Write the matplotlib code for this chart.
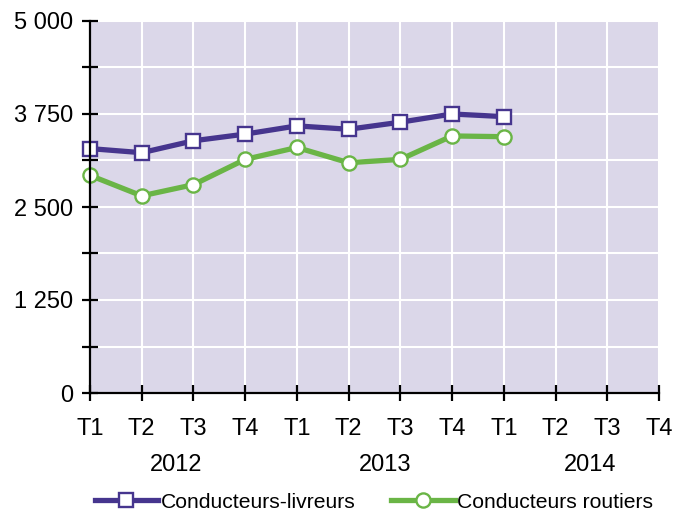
import matplotlib
matplotlib.use("Agg")
import matplotlib.pyplot as plt
from matplotlib.ticker import FixedLocator, FuncFormatter

quarters = ["T1", "T2", "T3", "T4"] * 3
years = ["2012", "2013", "2014"]
livreurs = [3285, 3230, 3390, 3480, 3590, 3545, 3640, 3750, 3715]
routiers = [2925, 2650, 2800, 3140, 3300, 3095, 3140, 3455, 3445]

purple = "#46358e"
green = "#6ab546"
bg = "#dbd7e9"

W, H = 689, 513
fig = plt.figure(figsize=(W / 100, H / 100), dpi=100)
ax = fig.add_axes([90 / W, 1 - 393 / H, (659 - 90) / W, (393 - 21) / H])
ax.set_facecolor(bg)

x = list(range(len(quarters)))
ax.plot(x[:len(livreurs)], livreurs, color=purple, lw=3.8, marker="s", ms=9.8,
        mfc="white", mec=purple, mew=1.7, label="Conducteurs-livreurs", zorder=4,
        clip_on=False)
ax.plot(x[:len(routiers)], routiers, color=green, lw=3.8, marker="o", ms=10.2,
        mfc="white", mec=green, mew=1.7, label="Conducteurs routiers", zorder=3,
        clip_on=False)

ax.set_xlim(0, len(quarters) - 1)
ax.set_ylim(0, 5000)
ax.set_xticks(x)
ax.set_xticklabels(quarters, fontfamily=["Liberation Sans Narrow", "Liberation Sans"], fontsize=17)
ax.yaxis.set_major_locator(FixedLocator([0, 1250, 2500, 3750, 5000]))
ax.yaxis.set_minor_locator(FixedLocator([625, 1875, 3125, 4375]))
ax.yaxis.set_major_formatter(FuncFormatter(lambda v, p: f"{int(v):,}".replace(",", " ")))
for lab in ax.get_yticklabels():
    lab.set_fontfamily("Liberation Sans")
    lab.set_fontsize(17)

ax.grid(True, which="both", axis="y", color="white", lw=1.5)
ax.grid(True, which="major", axis="x", color="white", lw=1.5)
ax.set_axisbelow(True)

for s in ["top", "right"]:
    ax.spines[s].set_visible(False)
for s in ["left", "bottom"]:
    ax.spines[s].set_linewidth(1.6)
    ax.spines[s].set_zorder(5)

ax.tick_params(axis="both", which="both", direction="inout", length=12, width=1.6)
ax.tick_params(axis="y", pad=6)
ax.tick_params(axis="x", pad=12)

year_pos = [1.67, 5.71, 9.66]
for xp, yr in zip(year_pos, years):
    ax.text(xp, 1 - (464.7 - 21) / (393 - 21), yr, transform=ax.get_xaxis_transform(),
            ha="center", va="center", fontsize=17, fontfamily="Liberation Sans")

leg = fig.legend(loc="center", bbox_to_anchor=(374 / W, 1 - 502 / H), ncol=2,
                 frameon=False, prop={"family": "Liberation Sans", "size": 15.2},
                 handlelength=3.0, handletextpad=0.12, columnspacing=1.7,
                 borderpad=0, borderaxespad=0)

fig.savefig("out.png", dpi=100)
